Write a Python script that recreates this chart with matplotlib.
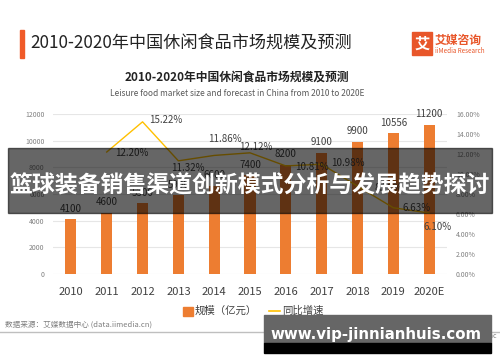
import matplotlib
matplotlib.use("Agg")
import matplotlib.pyplot as plt
from matplotlib.patches import Rectangle
import numpy as np

plt.rcParams['font.family'] = ['Noto Sans CJK SC', 'DejaVu Sans']

years = ['2010', '2011', '2012', '2013', '2014', '2015', '2016', '2017', '2018', '2019', '2020E']
market_size = [4100, 4600, 5300, 5900, 6600, 7400, 8200, 9100, 9900, 10556, 11200]
growth = [None, 12.20, 15.22, 11.32, 11.86, 12.12, 10.81, 10.98, 8.79, 6.63, 6.10]

# offsets (points) for growth labels
growth_offsets = [None, (18, -1), (17, 1), (6.5, -5), (8, 12), (4, 4), (19, -1), (19, 1), (22, -1), (17, 0), (6, -10)]

bar_color = '#ED7D31'
line_color = '#FFC000'
text_gray = '#404040'

fig = plt.figure(figsize=(5, 3.62), dpi=100)
fig.patch.set_facecolor('white')

ax = fig.add_axes([0.106, 0.243, 0.788, 0.442])
x = np.arange(len(years))
ax.bar(x, market_size, width=0.31, color=bar_color, zorder=2)
ax.set_xlim(-0.5, len(years) - 0.5)
ax.set_ylim(0, 12000)
ax.set_yticks(range(0, 12001, 2000))
ax.tick_params(axis='y', labelsize=5, colors='#808080', length=0, pad=6)
ax.tick_params(axis='x', labelsize=8, colors=text_gray, length=0, pad=9)
ax.set_xticks(x)
ax.set_xticklabels(years)
ax.grid(axis='y', color='#E6E6E6', linewidth=0.8, zorder=0)
for s in ax.spines.values():
    s.set_visible(False)
for xi, v in zip(x, market_size):
    ax.annotate(str(v), (xi, v), xytext=(0, 4), textcoords='offset points',
                ha='center', va='bottom', fontsize=7, color=text_gray)

ax2 = ax.twinx()
ax2.set_ylim(0, 16)
ax2.set_yticks(range(0, 17, 2))
ax2.set_yticklabels([f'{v:.2f}%' for v in range(0, 17, 2)])
ax2.tick_params(axis='y', labelsize=5, colors='#808080', length=0, pad=6.5)
for s in ax2.spines.values():
    s.set_visible(False)
gx = x[1:]
gy = growth[1:]
ax2.plot(gx, gy, color=line_color, linewidth=1.0, zorder=3)
for xi, v, off in zip(gx, gy, growth_offsets[1:]):
    ax2.annotate(f'{v:.2f}%', (xi, v), xytext=off, textcoords='offset points',
                 ha='center', va='center', fontsize=7, color=text_gray)

# header
fig.patches.append(Rectangle((20 / 500, 1 - 58 / 362), 4 / 500, 28 / 362,
                             transform=fig.transFigure, color='#F05A28'))
fig.text(30 / 500, 1 - 44 / 362, '2010-2020年中国休闲食品市场规模及预测',
         fontsize=12.3, fontweight='medium', color='#222222', va='center', ha='left')
fig.patches.append(Rectangle((412 / 500, 1 - 55 / 362), 20 / 500, 23 / 362,
                             transform=fig.transFigure, color='#E8562A'))
fig.text(422 / 500, 1 - 43.5 / 362, '艾', fontsize=11, color='white', fontweight='bold',
         ha='center', va='center')
fig.text(435 / 500, 1 - 40 / 362, '艾媒咨询', fontsize=8.5, color='#E8562A',
         fontweight='bold', ha='left', va='center')
fig.text(435 / 500, 1 - 51 / 362, 'iiMedia Research', fontsize=4.5, color='#E8562A',
         ha='left', va='center')

fig.text(237 / 500, 1 - 77 / 362, '2010-2020年中国休闲食品市场规模及预测',
         fontsize=8.5, fontweight='bold', color='#222222', ha='center', va='center')
fig.text(237 / 500, 1 - 93 / 362, 'Leisure food market size and forecast in China from 2010 to 2020E',
         fontsize=6, color='#595959', ha='center', va='center')

# legend
fig.patches.append(Rectangle((183 / 500, 1 - 316 / 362), 10 / 500, 9 / 362,
                             transform=fig.transFigure, color=bar_color))
fig.text(195 / 500, 1 - 311 / 362, '规模（亿元）', fontsize=7.5, color=text_gray,
         ha='left', va='center')
fig.lines.append(plt.Line2D([269 / 500, 280 / 500], [1 - 311 / 362, 1 - 311 / 362],
                            transform=fig.transFigure, color=line_color, linewidth=1.2))
fig.text(282 / 500, 1 - 311 / 362, '同比增速', fontsize=7.5, color=text_gray,
         ha='left', va='center')

# source + footer
fig.text(5 / 500, 1 - 325 / 362, '数据来源：艾媒数据中心 (data.iimedia.cn)', fontsize=5.5,
         color='#7F7F7F', ha='left', va='center')
fig.lines.append(plt.Line2D([0, 1], [1 - 332 / 362, 1 - 332 / 362],
                            transform=fig.transFigure, color='#BFBFBF', linewidth=1))
fig.text(497 / 500, 1 - 336 / 362, 'Copyright © iiMedia Research Inc', fontsize=5,
         color='#7F7F7F', ha='right', va='center')

# overlay banner
fig.patches.append(Rectangle((8 / 500, 1 - 213 / 362), 484 / 500, 65 / 362,
                             transform=fig.transFigure, color='black', alpha=0.6, zorder=10))
fig.text(250 / 500, 1 - 186 / 362, '篮球装备销售渠道创新模式分析与发展趋势探讨',
         fontsize=16.5, fontweight='bold', color='white', ha='center', va='center', zorder=11)

# watermark box
fig.patches.append(Rectangle((264 / 500, 1 - 343 / 362), 227 / 500, 28 / 362,
                             transform=fig.transFigure, color='#666666', zorder=10))
fig.patches.append(Rectangle((264 / 500, 1 - 353 / 362), 227 / 500, 10 / 362,
                             transform=fig.transFigure, color='black', zorder=10))
fig.text(376 / 500, 1 - 335 / 362, 'www.vip-jinnianhuis.com', fontsize=10.8,
         fontweight='bold', color='white', ha='center', va='center', zorder=11,
         family=['DejaVu Sans'])

fig.savefig('out.png', dpi=100)
